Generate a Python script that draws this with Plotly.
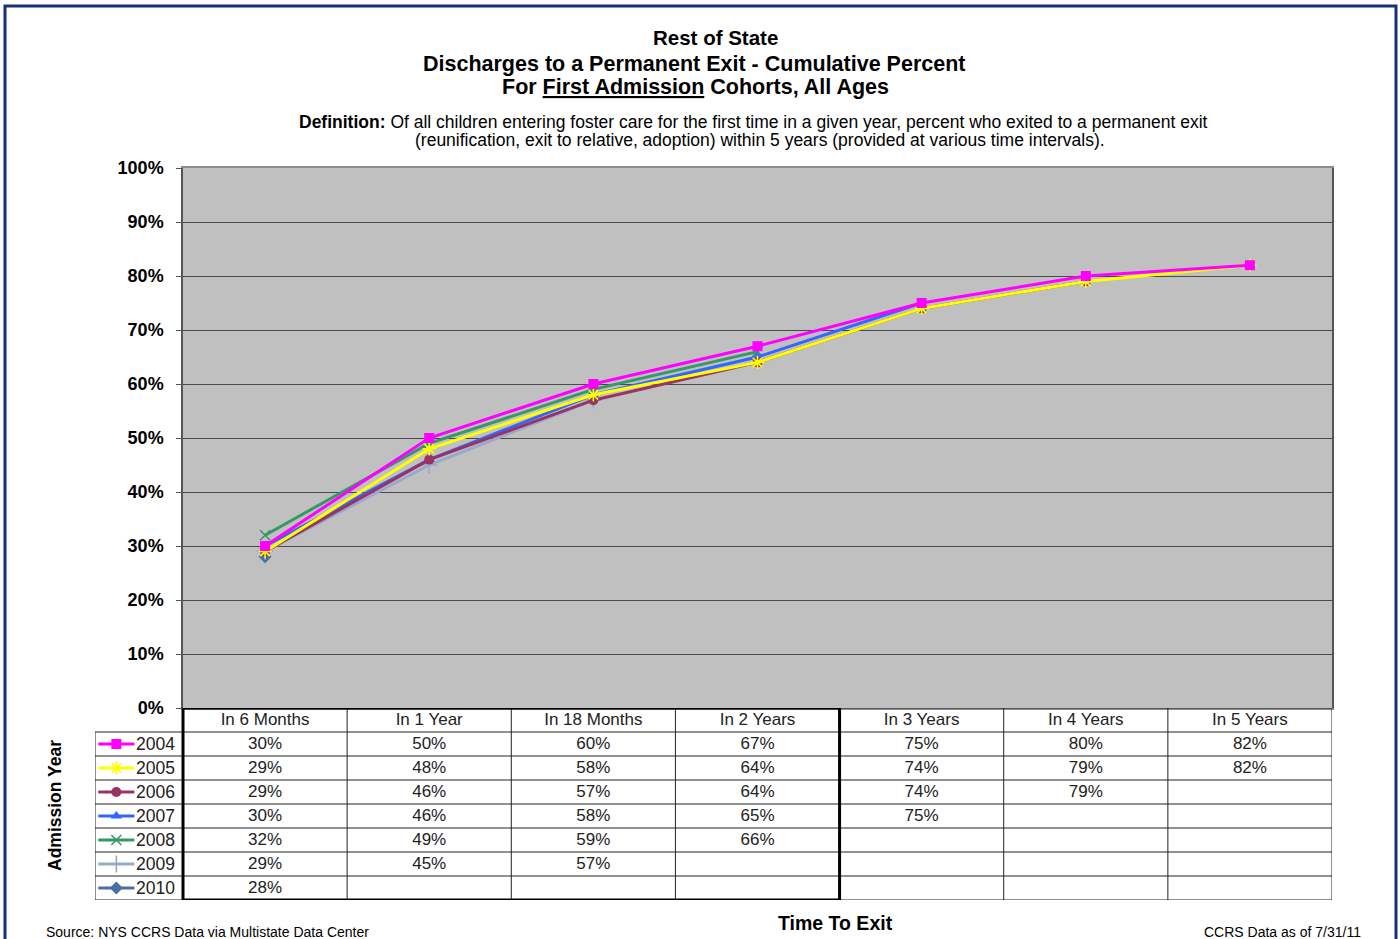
import plotly.graph_objects as go

# ---- data ---------------------------------------------------------------
periods = ["In 6 Months", "In 1 Year", "In 18 Months", "In 2 Years",
           "In 3 Years", "In 4 Years", "In 5 Years"]
cohorts = ["2004", "2005", "2006", "2007", "2008", "2009", "2010"]

pct_2004 = [30, 50, 60, 67, 75, 80, 82]
pct_2005 = [29, 48, 58, 64, 74, 79, 82]
pct_2006 = [29, 46, 57, 64, 74, 79]
pct_2007 = [30, 46, 58, 65, 75]
pct_2008 = [32, 49, 59, 66]
pct_2009 = [29, 45, 57]
pct_2010 = [28]

series = [pct_2004, pct_2005, pct_2006, pct_2007, pct_2008, pct_2009, pct_2010]

y_ticks = [0, 10, 20, 30, 40, 50, 60, 70, 80, 90, 100]

# ---- styling ------------------------------------------------------------
colors = ["#FF00FF", "#FFFF00", "#993366", "#3366FF", "#339966", "#99A9CC", "#4A6FA5"]
symbols = ["square", "asterisk-open", "circle", "triangle-up", "x-thin-open",
           "cross-thin-open", "diamond"]
msizes = [10, 11, 10, 10, 10, 12, 10]

FONT = "Liberation Sans, Arial, sans-serif"
W, H = 1400, 939
L, R, T, B = 95, 1332, 168, 900          # paper area in pixels
PLOT_LEFT, PLOT_BOTTOM = 183, 708        # main plot area corner


def px(x):
    return (x - L) / (R - L)


def py(y):
    return (B - y) / (B - T)


col_w = (R - PLOT_LEFT) / len(periods)
legend_left = -0.5 - (PLOT_LEFT - L) / col_w
n_rows = len(cohorts) + 1
right_edge = len(periods) - 0.5

fig = go.Figure()

# ---- chart lines (drawn last-first so 2004 sits on top) -----------------
for i in reversed(range(len(cohorts))):
    vals = series[i]
    mline = dict(width=1.6, color=colors[i]) if "open" in symbols[i] else dict(width=0)
    fig.add_trace(go.Scatter(
        x=list(range(len(vals))), y=[v / 100 for v in vals],
        mode="lines+markers",
        line=dict(color=colors[i], width=3),
        marker=dict(symbol=symbols[i], size=msizes[i], color=colors[i], line=mline),
        xaxis="x", yaxis="y", hoverinfo="skip", showlegend=False,
    ))

# ---- data table ---------------------------------------------------------
CELL = dict(family=FONT, size=17, color="#222222")
# header row
fig.add_trace(go.Scatter(
    x=list(range(len(periods))), y=[0.55] * len(periods), text=periods,
    mode="text", textfont=CELL,
    xaxis="x2", yaxis="y2", hoverinfo="skip", showlegend=False, cliponaxis=False,
))
# value cells
cx, cy, ct = [], [], []
for r, vals in enumerate(series):
    for c, v in enumerate(vals):
        cx.append(c)
        cy.append(r + 1.55)
        ct.append(f"{v}%")
fig.add_trace(go.Scatter(
    x=cx, y=cy, text=ct, mode="text", textfont=CELL,
    xaxis="x2", yaxis="y2", hoverinfo="skip", showlegend=False, cliponaxis=False,
))
# legend keys inside the table
key_x0 = legend_left + 0.02
key_x1 = legend_left + 0.24
for i, name in enumerate(cohorts):
    yk = i + 1.5
    mline = dict(width=1.6, color=colors[i]) if "open" in symbols[i] else dict(width=0)
    fig.add_trace(go.Scatter(
        x=[key_x0, key_x1], y=[yk, yk], mode="lines",
        line=dict(color=colors[i], width=3),
        xaxis="x2", yaxis="y2", hoverinfo="skip", showlegend=False,
    ))
    fig.add_trace(go.Scatter(
        x=[(key_x0 + key_x1) / 2], y=[yk], mode="markers",
        marker=dict(symbol=symbols[i], size=msizes[i], color=colors[i], line=mline),
        xaxis="x2", yaxis="y2", hoverinfo="skip", showlegend=False, cliponaxis=False,
    ))
    fig.add_trace(go.Scatter(
        x=[key_x1 + 0.01], y=[yk + 0.05], text=[name], mode="text",
        textposition="middle right",
        textfont=dict(family=FONT, size=17.5, color="#222222"),
        xaxis="x2", yaxis="y2", hoverinfo="skip", showlegend=False, cliponaxis=False,
    ))

shapes = []
# grey plot area of the chart (under the gridlines)
shapes.append(dict(type="rect", xref="x domain", yref="y domain", x0=0, x1=1, y0=0, y1=1,
                   fillcolor="#C0C0C0", line=dict(width=0), layer="below"))
grid = dict(color="#222222", width=1)
# horizontal rules
shapes.append(dict(type="line", xref="x2", yref="y2", x0=-0.5, x1=right_edge,
                   y0=0, y1=0, line=grid))
for r in range(1, n_rows + 1):
    shapes.append(dict(type="line", xref="x2", yref="y2", x0=legend_left,
                       x1=right_edge, y0=r, y1=r, line=grid))
# vertical rules
shapes.append(dict(type="line", xref="x2", yref="y2", x0=legend_left, x1=legend_left,
                   y0=1, y1=n_rows, line=grid))
for c in range(len(periods) + 1):
    shapes.append(dict(type="line", xref="x2", yref="y2", x0=c - 0.5, x1=c - 0.5,
                       y0=0, y1=n_rows, line=grid))
# heavy box round the first four intervals
shapes.append(dict(type="rect", xref="x2", yref="y2", x0=-0.5, x1=3.5, y0=0, y1=n_rows,
                   line=dict(color="black", width=3)))
# outer frame
shapes.append(dict(type="rect", xref="paper", yref="paper",
                   x0=px(5), x1=px(1396), y0=py(960), y1=py(6),
                   line=dict(color="#16307A", width=3), layer="below"))

# ---- text ---------------------------------------------------------------
def note(text, x, y, size, xanchor="center", bold=False, angle=0, color="black"):
    return dict(text=f"<b>{text}</b>" if bold else text, x=px(x), y=py(y),
                xref="paper", yref="paper", xanchor=xanchor, yanchor="middle",
                showarrow=False, textangle=angle,
                font=dict(family=FONT, size=size, color=color))


annotations = [
    note("Rest of State", 716, 38, 20.5, bold=True),
    note("Discharges to a Permanent Exit - Cumulative Percent", 694, 64, 21.5, bold=True),
    note("For <u>First Admission</u> Cohorts, All Ages", 695, 87, 21.5, bold=True),
    note("<b>Definition:</b> Of all children entering foster care for the first time in a given year, "
         "percent who exited to a permanent exit", 753, 122, 17.5),
    note("(reunification, exit to relative, adoption) within 5 years (provided at various time intervals).",
         760, 140, 17.5),
    note("Admission Year", 55, 806, 17.5, bold=True, angle=-90),
    note("Time To Exit", 835, 923, 19.5, bold=True),
    note("Source: NYS CCRS Data via Multistate Data Center", 44, 932, 14, xanchor="left"),
    note("CCRS Data as of 7/31/11", 1363, 932, 14, xanchor="right"),
]

split = (B - PLOT_BOTTOM) / (B - T)

fig.update_layout(
    width=W, height=H,
    margin=dict(l=L, r=W - R, t=T, b=H - B, pad=0),
    paper_bgcolor="white", plot_bgcolor="white",
    font=dict(family=FONT),
    xaxis=dict(domain=[px(PLOT_LEFT), 1], range=[-0.5, right_edge],
               showticklabels=False, showgrid=False, zeroline=False, ticks="",
               showline=True, mirror=True, linecolor="#8C8C8C", linewidth=1.5,
               fixedrange=True),
    yaxis=dict(domain=[split, 1], range=[0, 1],
               tickvals=[v / 100 for v in y_ticks], ticktext=[f"{v}%" for v in y_ticks],
               tickfont=dict(family=FONT, size=18, color="black", weight="bold"),
               ticks="outside", ticklen=5, tickcolor="#555555", ticklabelstandoff=9,
               showgrid=True, gridcolor="#4A4A4A", gridwidth=1.3, zeroline=False,
               showline=True, mirror=True, linecolor="#555555", linewidth=1.5,
               fixedrange=True),
    xaxis2=dict(domain=[0, 1], range=[legend_left, right_edge], visible=False,
                anchor="y2", fixedrange=True),
    yaxis2=dict(domain=[0, split], range=[n_rows, 0], visible=False, anchor="x2",
                fixedrange=True),
    shapes=shapes, annotations=annotations,
)

fig.write_html("out.html")
